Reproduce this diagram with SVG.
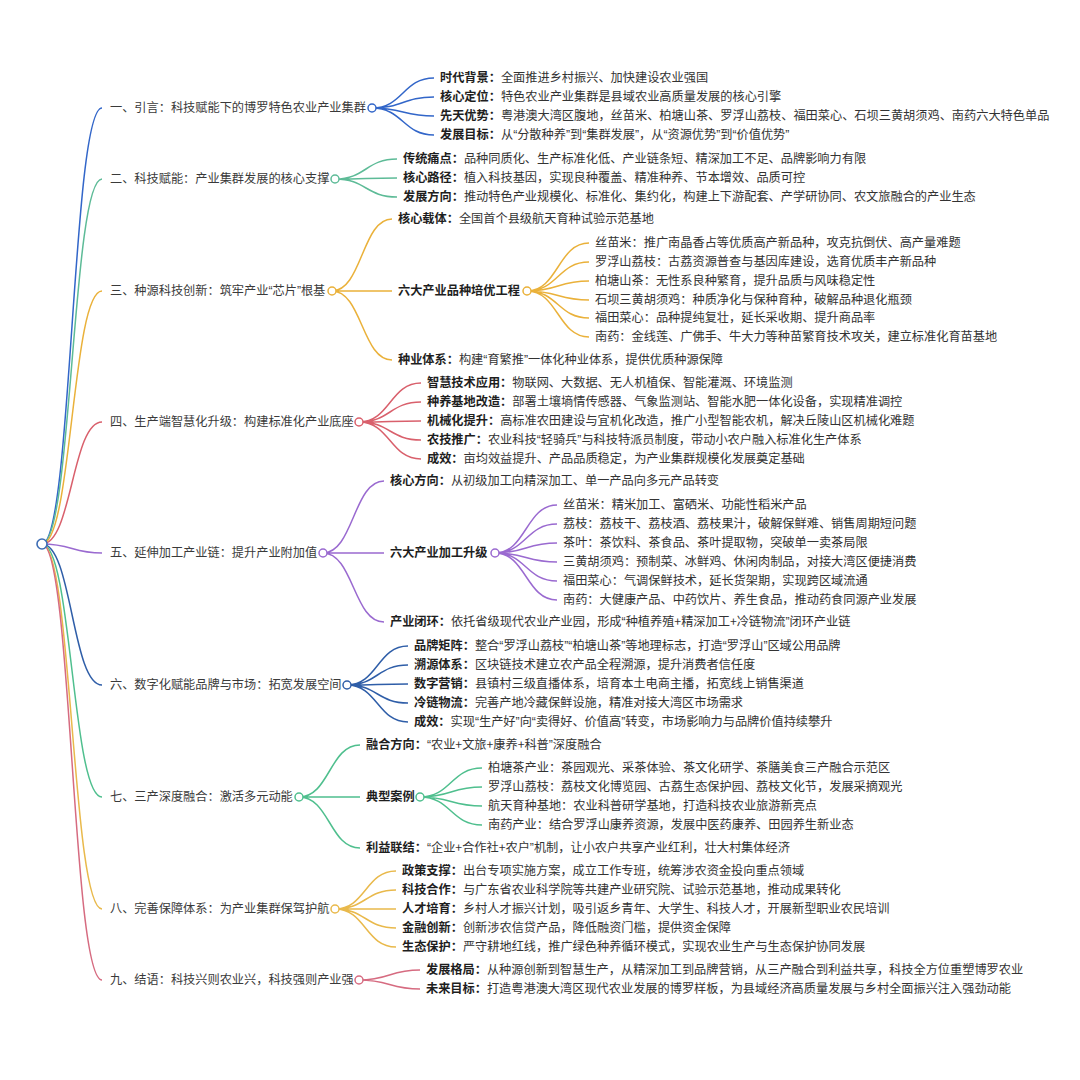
<svg xmlns="http://www.w3.org/2000/svg" width="1080" height="1080" viewBox="0 0 1080 1080">
<style>
text{font-family:"Noto Sans CJK SC","Noto Sans",sans-serif;font-size:12.2px;fill:#333}
.l1{fill:#3a3a3a}
.b{font-weight:700;fill:#1e1e1e}
.q{font-family:"Liberation Sans","Noto Sans",sans-serif}
.lk{fill:none;stroke-width:1.5}
.dot{fill:#fff;stroke-width:1.5}
.s1{stroke:#3266c9}.s2{stroke:#5dbb97}.s3{stroke:#eab13a}.s4{stroke:#d9606c}.s5{stroke:#9a6ad0}
.s6{stroke:#2f5ea8}.s7{stroke:#4fbf8e}.s8{stroke:#e9b94b}.s9{stroke:#d66b80}
</style>
<rect width="1080" height="1080" fill="#fff"/>
<g id="connectors">
<path class="lk s1" d="M42 544C72 544 72 108 102 108"/>
<path class="lk s2" d="M42 544C72 544 72 179 102 179"/>
<path class="lk s3" d="M42 544C72 544 72 291 102 291"/>
<path class="lk s4" d="M42 544C72 544 72 422 102 422"/>
<path class="lk s5" d="M42 544C72 544 72 553 102 553"/>
<path class="lk s6" d="M42 544C72 544 72 685 102 685"/>
<path class="lk s7" d="M42 544C72 544 72 797 102 797"/>
<path class="lk s8" d="M42 544C72 544 72 909 102 909"/>
<path class="lk s9" d="M42 544C72 544 72 980 102 980"/>
<path class="lk s1" d="M372 108C403 108 403 78 434 78M372 108C403 108 403 97 434 97M372 108C403 108 403 116 434 116M372 108C403 108 403 135 434 135"/>
<path class="lk s2" d="M335 179C366 179 366 159 397 159M335 179C366 179 366 178 397 178M335 179C366 179 366 197 397 197"/>
<path class="lk s3" d="M332 291C362 291 362 219 392 219M332 291L392 291M332 291C362 291 362 360 392 360"/>
<path class="lk s3" d="M527 291C558 291 558 243 589 243M527 291C558 291 558 262 589 262M527 291C558 291 558 281 589 281M527 291C558 291 558 300 589 300M527 291C558 291 558 318 589 318M527 291C558 291 558 337 589 337"/>
<path class="lk s4" d="M359 422C390 422 390 383 421 383M359 422C390 422 390 402 421 402M359 422C390 422 390 421 421 421M359 422C390 422 390 440 421 440M359 422C390 422 390 459 421 459"/>
<path class="lk s5" d="M323 553C353.5 553 353.5 481 384 481M323 553L384 553M323 553C353.5 553 353.5 622 384 622"/>
<path class="lk s5" d="M495 553C526 553 526 505 557 505M495 553C526 553 526 524 557 524M495 553C526 553 526 543 557 543M495 553C526 553 526 562 557 562M495 553C526 553 526 581 557 581M495 553C526 553 526 600 557 600"/>
<path class="lk s6" d="M347 685C377.5 685 377.5 646 408 646M347 685C377.5 685 377.5 665 408 665M347 685C377.5 685 377.5 684 408 684M347 685C377.5 685 377.5 703 408 703M347 685C377.5 685 377.5 722 408 722"/>
<path class="lk s7" d="M299 797C329.5 797 329.5 745 360 745M299 797L360 797M299 797C329.5 797 329.5 848 360 848"/>
<path class="lk s7" d="M420 797C451 797 451 768 482 768M420 797C451 797 451 787 482 787M420 797C451 797 451 806 482 806M420 797C451 797 451 825 482 825"/>
<path class="lk s8" d="M335 909C365.5 909 365.5 871 396 871M335 909C365.5 909 365.5 890 396 890M335 909C365.5 909 365.5 909 396 909M335 909C365.5 909 365.5 928 396 928M335 909C365.5 909 365.5 947 396 947"/>
<path class="lk s9" d="M359 980C389.5 980 389.5 970 420 970M359 980C389.5 980 389.5 989 420 989"/>
</g>
<g id="root"><circle cx="42" cy="544" r="5" fill="#fff" stroke="#3d6db5" stroke-width="1.6"/></g>

<g id="n1">
<text class="l1" x="110" y="112.3">一、引言：科技赋能下的博罗特色农业产业集群</text>
<circle class="dot s1" cx="372" cy="108" r="4"/>
<text x="440" y="82.3"><tspan class="b">时代背景：</tspan>全面推进乡村振兴、加快建设农业强国</text>
<text x="440" y="101.3"><tspan class="b">核心定位：</tspan>特色农业产业集群是县域农业高质量发展的核心引擎</text>
<text x="440" y="120.3"><tspan class="b">先天优势：</tspan>粤港澳大湾区腹地，丝苗米、柏塘山茶、罗浮山荔枝、福田菜心、石坝三黄胡须鸡、南药六大特色单品</text>
<text x="440" y="139.3"><tspan class="b">发展目标：</tspan>从<tspan class="q">“</tspan>分散种养<tspan class="q">”</tspan>到<tspan class="q">“</tspan>集群发展<tspan class="q">”</tspan>，从<tspan class="q">“</tspan>资源优势<tspan class="q">”</tspan>到<tspan class="q">“</tspan>价值优势<tspan class="q">”</tspan></text>
</g>

<g id="n2">
<text class="l1" x="110" y="183.3">二、科技赋能：产业集群发展的核心支撑</text>
<circle class="dot s2" cx="335" cy="179" r="4"/>
<text x="403" y="163.3"><tspan class="b">传统痛点：</tspan>品种同质化、生产标准化低、产业链条短、精深加工不足、品牌影响力有限</text>
<text x="403" y="182.3"><tspan class="b">核心路径：</tspan>植入科技基因，实现良种覆盖、精准种养、节本增效、品质可控</text>
<text x="403" y="201.3"><tspan class="b">发展方向：</tspan>推动特色产业规模化、标准化、集约化，构建上下游配套、产学研协同、农文旅融合的产业生态</text>
</g>

<g id="n3">
<text class="l1" x="110" y="295.3">三、种源科技创新：筑牢产业<tspan class="q">“</tspan>芯片<tspan class="q">”</tspan>根基</text>
<circle class="dot s3" cx="332" cy="291" r="4"/>
<text x="398" y="223.3"><tspan class="b">核心载体：</tspan>全国首个县级航天育种试验示范基地</text>
<text x="398" y="295.3" class="b">六大产业品种培优工程</text>
<circle class="dot s3" cx="527" cy="291" r="4"/>
<text x="595" y="247.3">丝苗米：推广南晶香占等优质高产新品种，攻克抗倒伏、高产量难题</text>
<text x="595" y="266.3">罗浮山荔枝：古荔资源普查与基因库建设，选育优质丰产新品种</text>
<text x="595" y="285.3">柏塘山茶：无性系良种繁育，提升品质与风味稳定性</text>
<text x="595" y="304.3">石坝三黄胡须鸡：种质净化与保种育种，破解品种退化瓶颈</text>
<text x="595" y="322.3">福田菜心：品种提纯复壮，延长采收期、提升商品率</text>
<text x="595" y="341.3">南药：金线莲、广佛手、牛大力等种苗繁育技术攻关，建立标准化育苗基地</text>
<text x="398" y="364.3"><tspan class="b">种业体系：</tspan>构建<tspan class="q">“</tspan>育繁推<tspan class="q">”</tspan>一体化种业体系，提供优质种源保障</text>
</g>

<g id="n4">
<text class="l1" x="110" y="426.3">四、生产端智慧化升级：构建标准化产业底座</text>
<circle class="dot s4" cx="359" cy="422" r="4"/>
<text x="427" y="387.3"><tspan class="b">智慧技术应用：</tspan>物联网、大数据、无人机植保、智能灌溉、环境监测</text>
<text x="427" y="406.3"><tspan class="b">种养基地改造：</tspan>部署土壤墒情传感器、气象监测站、智能水肥一体化设备，实现精准调控</text>
<text x="427" y="425.3"><tspan class="b">机械化提升：</tspan>高标准农田建设与宜机化改造，推广小型智能农机，解决丘陵山区机械化难题</text>
<text x="427" y="444.3"><tspan class="b">农技推广：</tspan>农业科技<tspan class="q">“</tspan>轻骑兵<tspan class="q">”</tspan>与科技特派员制度，带动小农户融入标准化生产体系</text>
<text x="427" y="463.3"><tspan class="b">成效：</tspan>亩均效益提升、产品品质稳定，为产业集群规模化发展奠定基础</text>
</g>

<g id="n5">
<text class="l1" x="110" y="557.3">五、延伸加工产业链：提升产业附加值</text>
<circle class="dot s5" cx="323" cy="553" r="4"/>
<text x="390" y="485.3"><tspan class="b">核心方向：</tspan>从初级加工向精深加工、单一产品向多元产品转变</text>
<text x="390" y="557.3" class="b">六大产业加工升级</text>
<circle class="dot s5" cx="495" cy="553" r="4"/>
<text x="563" y="509.3">丝苗米：精米加工、富硒米、功能性稻米产品</text>
<text x="563" y="528.3">荔枝：荔枝干、荔枝酒、荔枝果汁，破解保鲜难、销售周期短问题</text>
<text x="563" y="547.3">茶叶：茶饮料、茶食品、茶叶提取物，突破单一卖茶局限</text>
<text x="563" y="566.3">三黄胡须鸡：预制菜、冰鲜鸡、休闲肉制品，对接大湾区便捷消费</text>
<text x="563" y="585.3">福田菜心：气调保鲜技术，延长货架期，实现跨区域流通</text>
<text x="563" y="604.3">南药：大健康产品、中药饮片、养生食品，推动药食同源产业发展</text>
<text x="390" y="626.3"><tspan class="b">产业闭环：</tspan>依托省级现代农业产业园，形成<tspan class="q">“</tspan>种植养殖+精深加工+冷链物流<tspan class="q">”</tspan>闭环产业链</text>
</g>

<g id="n6">
<text class="l1" x="110" y="689.3">六、数字化赋能品牌与市场：拓宽发展空间</text>
<circle class="dot s6" cx="347" cy="685" r="4"/>
<text x="414" y="650.3"><tspan class="b">品牌矩阵：</tspan>整合<tspan class="q">“</tspan>罗浮山荔枝<tspan class="q">”“</tspan>柏塘山茶<tspan class="q">”</tspan>等地理标志，打造<tspan class="q">“</tspan>罗浮山<tspan class="q">”</tspan>区域公用品牌</text>
<text x="414" y="669.3"><tspan class="b">溯源体系：</tspan>区块链技术建立农产品全程溯源，提升消费者信任度</text>
<text x="414" y="688.3"><tspan class="b">数字营销：</tspan>县镇村三级直播体系，培育本土电商主播，拓宽线上销售渠道</text>
<text x="414" y="707.3"><tspan class="b">冷链物流：</tspan>完善产地冷藏保鲜设施，精准对接大湾区市场需求</text>
<text x="414" y="726.3"><tspan class="b">成效：</tspan>实现<tspan class="q">“</tspan>生产好<tspan class="q">”</tspan>向<tspan class="q">“</tspan>卖得好、价值高<tspan class="q">”</tspan>转变，市场影响力与品牌价值持续攀升</text>
</g>

<g id="n7">
<text class="l1" x="110" y="801.3">七、三产深度融合：激活多元动能</text>
<circle class="dot s7" cx="299" cy="797" r="4"/>
<text x="366" y="749.3"><tspan class="b">融合方向：</tspan><tspan class="q">“</tspan>农业+文旅+康养+科普<tspan class="q">”</tspan>深度融合</text>
<text x="366" y="801.3" class="b">典型案例</text>
<circle class="dot s7" cx="420" cy="797" r="4"/>
<text x="488" y="772.3">柏塘茶产业：茶园观光、采茶体验、茶文化研学、茶膳美食三产融合示范区</text>
<text x="488" y="791.3">罗浮山荔枝：荔枝文化博览园、古荔生态保护园、荔枝文化节，发展采摘观光</text>
<text x="488" y="810.3">航天育种基地：农业科普研学基地，打造科技农业旅游新亮点</text>
<text x="488" y="829.3">南药产业：结合罗浮山康养资源，发展中医药康养、田园养生新业态</text>
<text x="366" y="852.3"><tspan class="b">利益联结：</tspan><tspan class="q">“</tspan>企业+合作社+农户<tspan class="q">”</tspan>机制，让小农户共享产业红利，壮大村集体经济</text>
</g>

<g id="n8">
<text class="l1" x="110" y="913.3">八、完善保障体系：为产业集群保驾护航</text>
<circle class="dot s8" cx="335" cy="909" r="4"/>
<text x="402" y="875.3"><tspan class="b">政策支撑：</tspan>出台专项实施方案，成立工作专班，统筹涉农资金投向重点领域</text>
<text x="402" y="894.3"><tspan class="b">科技合作：</tspan>与广东省农业科学院等共建产业研究院、试验示范基地，推动成果转化</text>
<text x="402" y="913.3"><tspan class="b">人才培育：</tspan>乡村人才振兴计划，吸引返乡青年、大学生、科技人才，开展新型职业农民培训</text>
<text x="402" y="932.3"><tspan class="b">金融创新：</tspan>创新涉农信贷产品，降低融资门槛，提供资金保障</text>
<text x="402" y="951.3"><tspan class="b">生态保护：</tspan>严守耕地红线，推广绿色种养循环模式，实现农业生产与生态保护协同发展</text>
</g>

<g id="n9">
<text class="l1" x="110" y="984.3">九、结语：科技兴则农业兴，科技强则产业强</text>
<circle class="dot s9" cx="359" cy="980" r="4"/>
<text x="426" y="974.3"><tspan class="b">发展格局：</tspan>从种源创新到智慧生产，从精深加工到品牌营销，从三产融合到利益共享，科技全方位重塑博罗农业</text>
<text x="426" y="993.3"><tspan class="b">未来目标：</tspan>打造粤港澳大湾区现代农业发展的博罗样板，为县域经济高质量发展与乡村全面振兴注入强劲动能</text>
</g>
</svg>
